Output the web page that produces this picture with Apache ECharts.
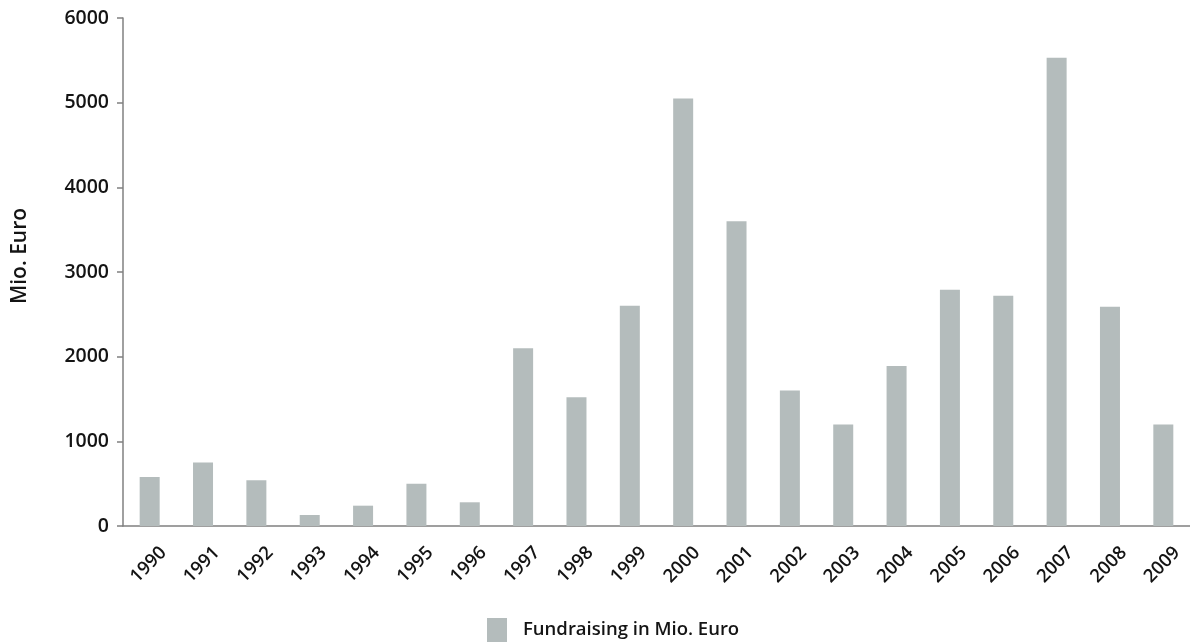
<!DOCTYPE html>
<html>
<head>
<meta charset="utf-8">
<script src="https://cdn.jsdelivr.net/npm/echarts@6/dist/echarts.min.js"></script>
<style>
  html, body { margin: 0; padding: 0; background: #ffffff; }
  #chart { width: 1190px; height: 644px; }
</style>
</head>
<body>
<div id="chart"></div>
<script>
// Annual fundraising, million euro
const years = ['1990','1991','1992','1993','1994','1995','1996','1997','1998','1999',
               '2000','2001','2002','2003','2004','2005','2006','2007','2008','2009'];
const fundraising = [580, 750, 540, 130, 240, 500, 280, 2100, 1520, 2600,
                     5050, 3600, 1600, 1200, 1890, 2790, 2720, 5530, 2590, 1200];
const seriesName = 'Fundraising in Mio. Euro';
const axisTitle = 'Mio. Euro';

const textFont = '"Open Sans", "Noto Sans", sans-serif';
const textColor = '#141414';
const textWeight = 600;
const chart = echarts.init(document.getElementById('chart'));
chart.setOption({
  animation: false,
  backgroundColor: '#ffffff',
  grid: { left: 123, right: 0, top: 18, bottom: 118, containLabel: false },
  legend: {
    data: [seriesName],
    icon: 'rect',
    left: 487,
    top: 618,
    padding: 0,
    itemWidth: 20,
    itemHeight: 24,
    textStyle: {
      fontFamily: textFont, fontSize: 18.5, fontWeight: textWeight, color: textColor,
      padding: [0, 0, 0, 11]
    }
  },
  xAxis: {
    type: 'category',
    data: years,
    axisLine: { lineStyle: { color: '#808080', width: 1.5 } },
    axisTick: { show: false },
    axisLabel: {
      rotate: 45,
      interval: 0,
      margin: 10,
      verticalAlign: 'top',
      // year labels sit slightly below-right of the bar centre
      formatter: function (v) { return '{yr|' + v + '}'; },
      rich: {
        yr: {
          fontFamily: textFont,
          fontSize: 18.5,
          fontWeight: textWeight,
          color: textColor,
          padding: [10, 0, 0, 0]
        }
      },
      fontFamily: textFont,
      fontSize: 18.5,
      fontWeight: textWeight,
      color: textColor
    }
  },
  yAxis: {
    type: 'value',
    min: 0,
    max: 6000,
    interval: 1000,
    name: axisTitle,
    nameLocation: 'middle',
    nameGap: 92,
    nameRotate: 90,
    nameTextStyle: {
      fontFamily: textFont, fontSize: 21, fontWeight: textWeight, color: textColor,
      padding: [0, 0, 0, 32]
    },
    axisLine: { show: true, lineStyle: { color: '#808080', width: 1.5 } },
    axisTick: { show: true, length: 6, lineStyle: { color: '#808080', width: 1.5 } },
    splitLine: { show: false },
    axisLabel: {
      margin: 14,
      formatter: function (v) { return String(v); },
      fontFamily: textFont,
      fontSize: 19.5,
      fontWeight: textWeight,
      color: textColor
    }
  },
  series: [{
    name: seriesName,
    type: 'bar',
    data: fundraising,
    barWidth: 20,
    itemStyle: { color: '#b4bcbc' }
  }]
});
</script>
</body>
</html>
